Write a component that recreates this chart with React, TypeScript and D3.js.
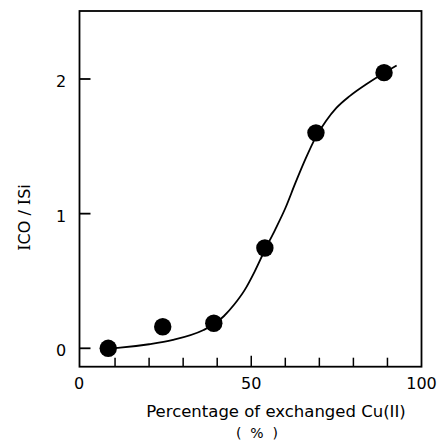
import React from "react";
import * as d3 from "d3";

// Data points (percentage of exchanged Cu(II), I_CO / I_Si)
const pctExchanged = [8, 24, 39, 54, 69, 89];
const intensityRatio = [0.0, 0.16, 0.186, 0.745, 1.6, 2.047];

// Fitted curve
const curveX = [8, 11.5, 20, 27, 36, 39, 42, 45, 48, 51, 54, 57, 60, 63, 66, 69, 72, 75, 79, 84, 89, 92.7];
const curveY = [0.0, 0.005, 0.03, 0.062, 0.136, 0.178, 0.24, 0.325, 0.43, 0.57, 0.73, 0.88, 1.04, 1.23, 1.41, 1.57, 1.69, 1.785, 1.875, 1.965, 2.045, 2.1];

const xTickLabels = [0, 50, 100];
const xMinorTicks = [10, 20, 30, 40, 50, 60, 70, 80, 90];
const yTickValues = [0, 1, 2];

const W = 437;
const H = 441;
const frameLeft = 79.5;
const frameRight = 421.5;
const frameTop = 11;
const frameBottom = 366.7;

export default function App() {
  const x = d3.scaleLinear().domain([0, 100]).range([81, 421.5]);
  const y = d3.scaleLinear().domain([0, 2]).range([348.3, 79]);

  const line = d3
    .line<number>()
    .x((d) => x(curveX[d]))
    .y((d) => y(curveY[d]))
    .curve(d3.curveMonotoneX);
  const path = line(curveX.map((_, i) => i)) || "";

  const font = "'DejaVu Sans', sans-serif";

  return (
    <svg
      width={W}
      height={H}
      style={{ position: "absolute", left: 0, top: 0, background: "#fff" }}
    >
      <rect x={0} y={0} width={W} height={H} fill="#fff" />
      {/* frame */}
      <rect
        x={frameLeft}
        y={frameTop}
        width={frameRight - frameLeft}
        height={frameBottom - frameTop}
        fill="none"
        stroke="#000"
        strokeWidth={1.8}
      />
      {/* y ticks */}
      {yTickValues.map((v) => (
        <g key={"yt" + v}>
          <line x1={frameLeft} x2={frameLeft + 11} y1={y(v)} y2={y(v)} stroke="#000" strokeWidth={1.8} />
          <text
            x={61}
            y={y(v) + 8}
            fontFamily={font}
            fontSize={16}
            textAnchor="middle"
            fill="#000"
          >
            {v}
          </text>
        </g>
      ))}
      {/* x ticks */}
      {xMinorTicks.map((v) => (
        <line
          key={"xt" + v}
          x1={x(v)}
          x2={x(v)}
          y1={frameBottom}
          y2={frameBottom - (v === 50 ? 11 : 9)}
          stroke="#000"
          strokeWidth={1.5}
        />
      ))}
      {xTickLabels.map((v) => (
        <text
          key={"xl" + v}
          x={v === 0 ? x(v) - 2 : x(v)}
          y={389}
          fontFamily={font}
          fontSize={16}
          textAnchor="middle"
          fill="#000"
        >
          {v}
        </text>
      ))}
      {/* x axis title */}
      <text x={276} y={417} fontFamily={font} fontSize={16.5} textAnchor="middle" fill="#000">
        Percentage of exchanged Cu(II)
      </text>
      <text x={257} y={438} fontFamily={font} fontSize={14} textAnchor="middle" fill="#000" xmlSpace="preserve">
        (  %  )
      </text>
      {/* y axis title */}
      <text
        transform="translate(30,217.5) rotate(-90)"
        fontFamily={font}
        fontSize={16}
        textAnchor="middle"
        fill="#000"
      >
        <tspan fontFamily="'DejaVu Serif', serif">I</tspan>
        <tspan>CO</tspan>
        <tspan> / </tspan>
        <tspan fontFamily="'DejaVu Serif', serif">I</tspan>
        <tspan>Si</tspan>
      </text>
      {/* curve */}
      <path d={path} fill="none" stroke="#000" strokeWidth={1.8} />
      {/* points */}
      {pctExchanged.map((p, i) => (
        <circle key={"pt" + i} cx={x(p)} cy={y(intensityRatio[i])} r={8.7} fill="#000" />
      ))}
    </svg>
  );
}
